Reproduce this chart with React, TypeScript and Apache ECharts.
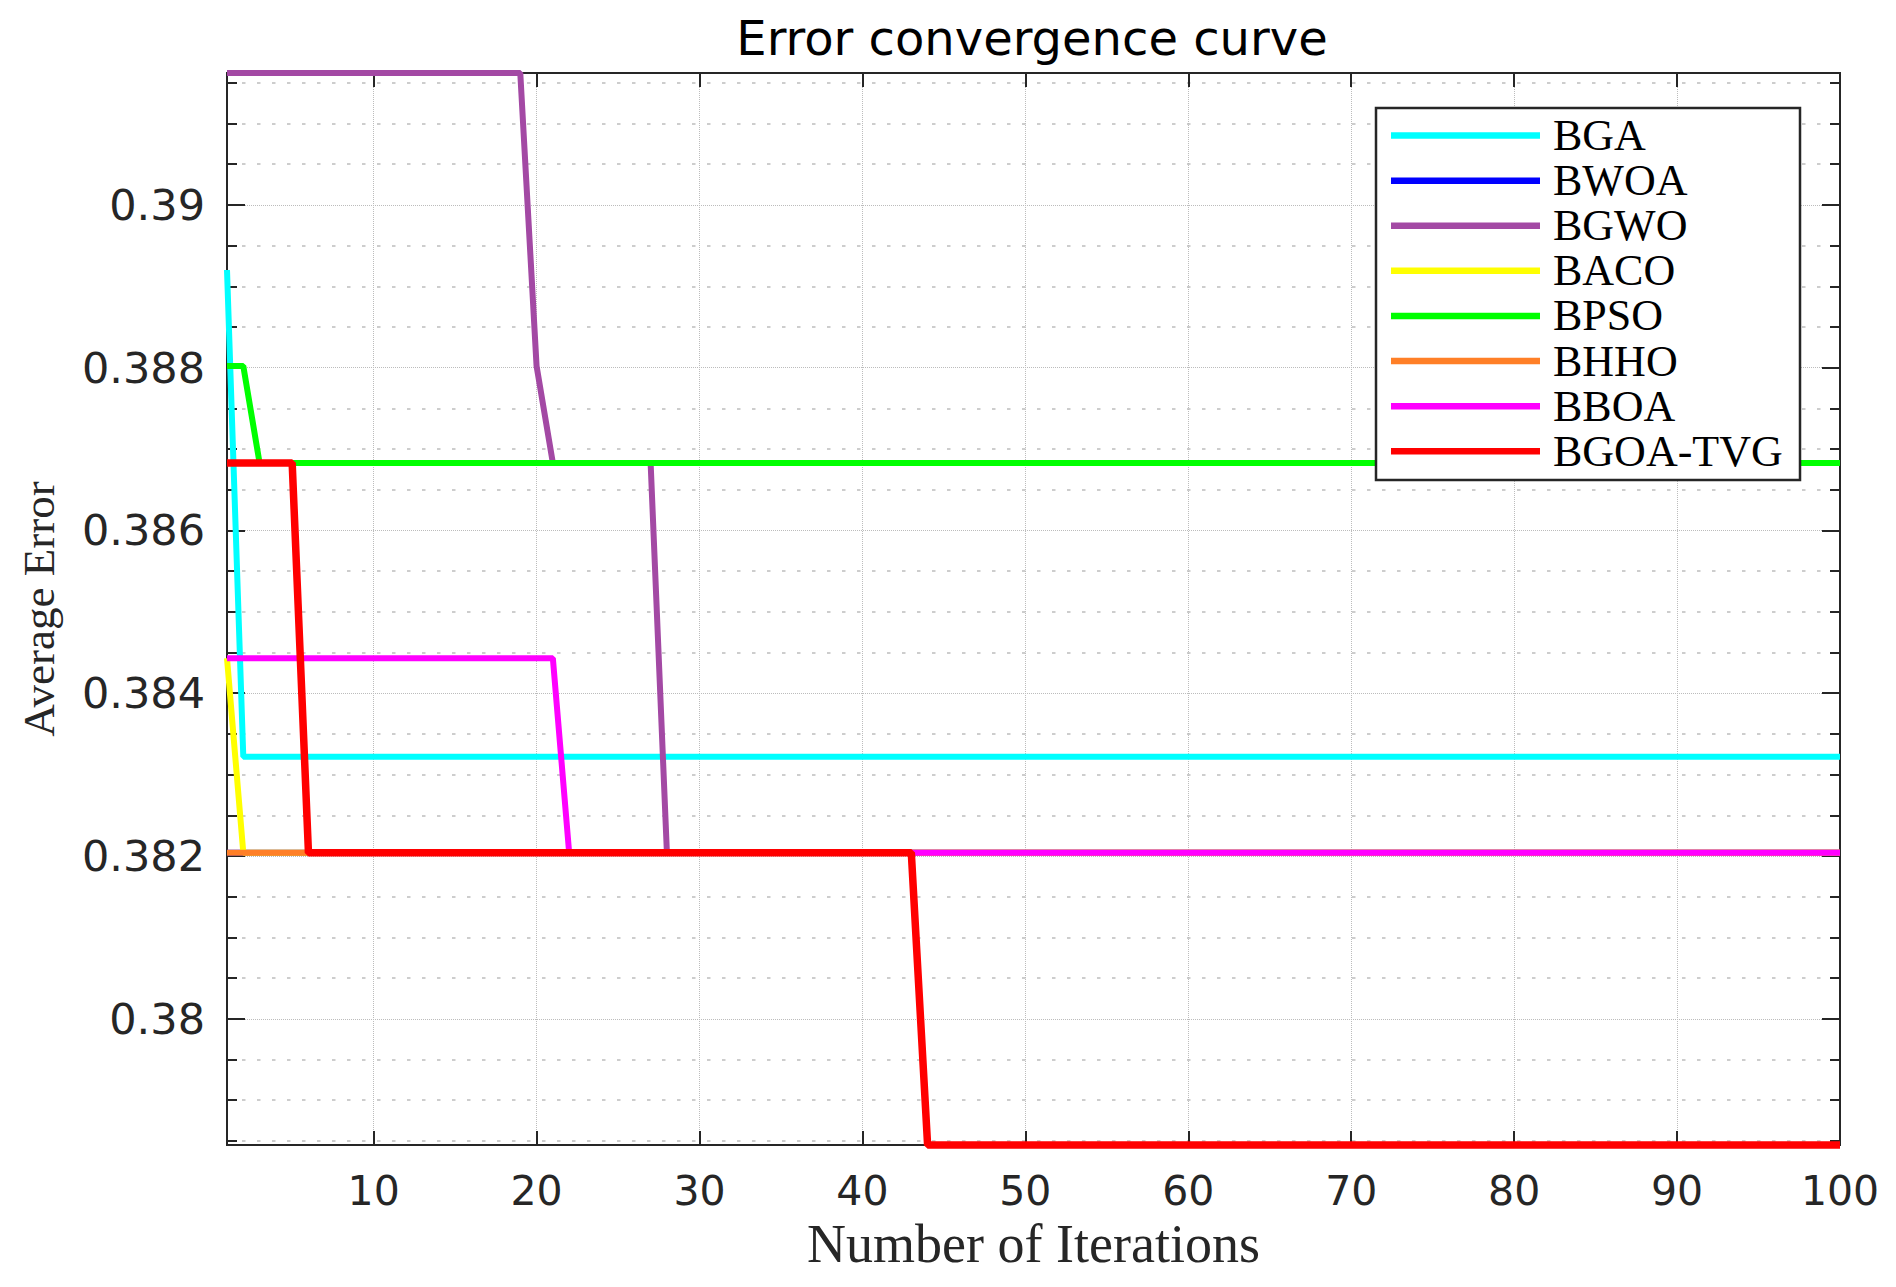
import React, { useEffect, useRef } from 'react';
import * as echarts from 'echarts';

// ---- Data ----
const seriesNames = ['BGA', 'BWOA', 'BGWO', 'BACO', 'BPSO', 'BHHO', 'BBOA', 'BGOA-TVG'];
const seriesColors = ['#00FFFF', '#0000FF', '#A349A4', '#FFFF00', '#00FF00', '#FF7F27', '#FF00FF', '#FF0000'];

// [iteration, average error] at the points where each curve changes
const bga = [[1, 0.3892], [2, 0.38322], [100, 0.38322]];
const bwoa = [[1, 0.38204], [100, 0.38204]];
const bgwo = [[1, 0.39162], [19, 0.39162], [20, 0.38802], [21, 0.38683], [27, 0.38683], [28, 0.38204], [100, 0.38204]];
const baco = [[1, 0.38443], [2, 0.38204], [100, 0.38204]];
const bpso = [[1, 0.38802], [2, 0.38802], [3, 0.38683], [100, 0.38683]];
const bhho = [[1, 0.38204], [100, 0.38204]];
const bboa = [[1, 0.38443], [21, 0.38443], [22, 0.38204], [100, 0.38204]];
const bgoaTvg = [[1, 0.38683], [5, 0.38683], [6, 0.38204], [43, 0.38204], [44, 0.37845], [100, 0.37845]];
const seriesData = [bga, bwoa, bgwo, baco, bpso, bhho, bboa, bgoaTvg];

const xTicks = [10, 20, 30, 40, 50, 60, 70, 80, 90, 100];
const yMajorTicks = [0.38, 0.382, 0.384, 0.386, 0.388, 0.39];
const yMinorTicks = [0.3785, 0.379, 0.3795, 0.3805, 0.381, 0.3815, 0.3825, 0.383, 0.3835, 0.3845, 0.385, 0.3855,
  0.3865, 0.387, 0.3875, 0.3885, 0.389, 0.3895, 0.3905, 0.391, 0.3915];
const X_MIN = 1;
const X_MAX = 100;
const Y_MIN = 0.37845;
const Y_MAX = 0.39162;

const axisColor = '#262626';
const sansFont = 'DejaVu Sans';
const serifFont = 'Liberation Serif';
const axisLineStyle = { color: axisColor, width: 2 };
const majorGrid = { color: '#bcbcbc', width: 1, type: [1, 1] };
const minorGrid = { color: '#bdbdbd', width: 1.6, type: [3.5, 11.5] };

const fmt = (v: number) => String(parseFloat(Number(v).toFixed(4)));

function yAxisDef(position: string, ticks: number[], len: number, main: boolean, grid: any) {
  const ax: any = {
    type: 'value',
    position,
    min: Y_MIN,
    max: Y_MAX,
    axisLine: { show: true, onZero: false, lineStyle: axisLineStyle },
    axisTick: { show: true, inside: true, length: len, customValues: ticks, lineStyle: axisLineStyle },
    axisLabel: { show: false },
    splitLine: grid ? { show: true, lineStyle: grid } : { show: false },
    minorTick: { show: false },
    minorSplitLine: { show: false },
  };
  if (main) {
    ax.axisLabel = {
      show: true,
      customValues: ticks,
      formatter: fmt,
      margin: 22,
      fontFamily: sansFont,
      fontSize: 43,
      color: axisColor,
    };
    ax.name = 'Average Error';
    ax.nameLocation = 'middle';
    ax.nameGap = 166;
    ax.nameRotate = 90;
    ax.nameTextStyle = { fontFamily: serifFont, fontSize: 45, color: axisColor };
  }
  return ax;
}

function xAxisDef(position: string, main: boolean) {
  const ax: any = {
    type: 'value',
    position,
    min: X_MIN,
    max: X_MAX,
    axisLine: { show: true, onZero: false, lineStyle: axisLineStyle },
    axisTick: { show: true, inside: true, length: 14, customValues: xTicks, lineStyle: axisLineStyle },
    axisLabel: { show: false },
    splitLine: main ? { show: true, lineStyle: majorGrid } : { show: false },
    minorTick: { show: false },
  };
  if (main) {
    ax.axisLabel = {
      show: true,
      customValues: xTicks,
      margin: 25,
      fontFamily: sansFont,
      fontSize: 41,
      color: axisColor,
    };
    ax.name = 'Number of Iterations';
    ax.nameLocation = 'middle';
    ax.nameGap = 72;
    ax.nameTextStyle = { fontFamily: serifFont, fontSize: 54, color: axisColor };
  }
  return ax;
}

export default function App() {
  const ref = useRef<HTMLDivElement>(null);
  useEffect(() => {
    if (!ref.current) return;
    const chart = echarts.init(ref.current, null, { renderer: 'svg' });
    const option: any = {
      animation: false,
      backgroundColor: '#ffffff',
      title: {
        text: 'Error convergence curve',
        left: 1032,
        top: 14,
        textAlign: 'center',
        padding: 0,
        textStyle: { fontFamily: sansFont, fontSize: 48, fontWeight: 'normal', color: '#000' },
      },
      grid: { left: 227, right: 56, top: 73, bottom: 142, containLabel: false, outerBoundsMode: 'none' },
      graphic: [
        {
          type: 'rect',
          z: 50,
          shape: { x: 1376, y: 108, width: 424, height: 372 },
          style: { fill: '#ffffff', stroke: '#262626', lineWidth: 2.5 },
        },
      ],
      legend: {
        show: true,
        orient: 'vertical',
        left: 1391,
        top: 113,
        padding: 0,
        itemGap: 0,
        itemWidth: 149,
        itemHeight: 6.5,
        icon: 'rect',
        selectedMode: false,
        z: 60,
        data: seriesNames,
        itemStyle: { borderWidth: 0 },
        textStyle: { fontFamily: serifFont, fontSize: 44, color: '#000', lineHeight: 45.1, padding: [0, 0, 0, 8] },
      },
      xAxis: [xAxisDef('bottom', true), xAxisDef('top', false)],
      yAxis: [
        yAxisDef('left', yMajorTicks, 18, true, majorGrid),
        yAxisDef('left', yMinorTicks, 10, false, minorGrid),
        yAxisDef('right', yMajorTicks, 18, false, null),
        yAxisDef('right', yMinorTicks, 10, false, null),
      ],
      series: seriesData.map((d, i) => ({
        name: seriesNames[i],
        type: 'line',
        data: d,
        xAxisIndex: 0,
        yAxisIndex: 0,
        showSymbol: false,
        symbol: 'none',
        clip: false,
        color: seriesColors[i],
        itemStyle: { color: seriesColors[i] },
        lineStyle: { color: seriesColors[i], width: i === 7 ? 7.5 : 6 },
        emphasis: { disabled: true },
        z: 2,
      })),
    };
    chart.setOption(option);
    return () => chart.dispose();
  }, []);
  return (
    <div
      ref={ref}
      style={{ position: 'fixed', left: 0, top: 0, width: 1896, height: 1287, background: '#fff' }}
    />
  );
}
